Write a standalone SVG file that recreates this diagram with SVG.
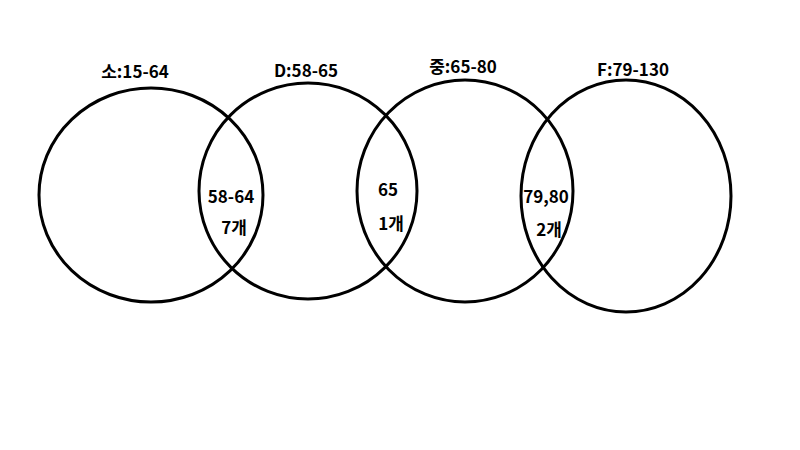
<svg xmlns="http://www.w3.org/2000/svg" width="800" height="450" viewBox="0 0 800 450">
<style>
.c{fill:none;stroke:#000;stroke-width:3}
.t{font-family:"Noto Sans CJK KR","Noto Sans",sans-serif;font-size:17px;font-weight:bold;fill:#000;text-anchor:middle}
</style>
<rect width="800" height="450" fill="#fff"/>
<g id="set-so">
<ellipse class="c" cx="151" cy="195" rx="112" ry="107"/>
<text class="t" x="135" y="78">소:15-64</text>
</g>
<g id="set-d">
<ellipse class="c" cx="308" cy="191" rx="109" ry="108"/>
<text class="t" x="306" y="77">D:58-65</text>
</g>
<g id="set-jung">
<ellipse class="c" cx="465" cy="191" rx="108" ry="111"/>
<text class="t" x="463" y="73">중:65-80</text>
</g>
<g id="set-f">
<ellipse class="c" cx="626" cy="196" rx="105" ry="116"/>
<text class="t" x="633" y="76">F:79-130</text>
</g>
<g id="overlaps">
<text class="t" x="231" y="203">58-64</text>
<text class="t" x="234" y="234">7개</text>
<text class="t" x="388" y="196">65</text>
<text class="t" x="391" y="230">1개</text>
<text class="t" x="546" y="203">79,80</text>
<text class="t" x="549" y="236">2개</text>
</g>
<g id="connectors"/>
</svg>
